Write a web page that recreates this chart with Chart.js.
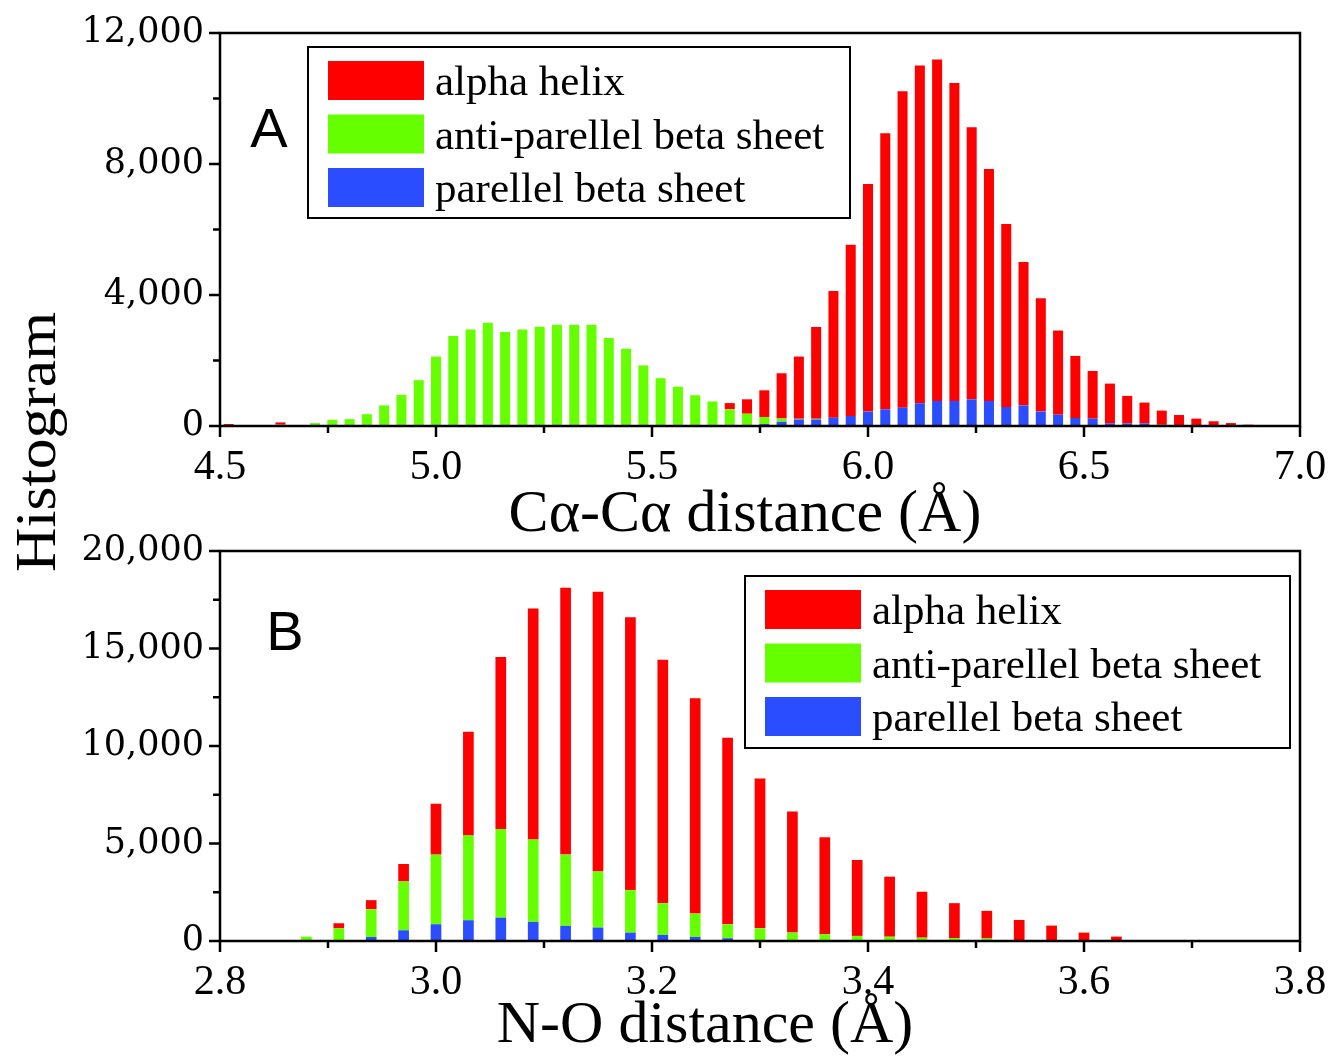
<!DOCTYPE html>
<html>
<head>
<meta charset="utf-8">
<script src="https://cdn.jsdelivr.net/npm/chart.js@4.4.1/dist/chart.umd.min.js"></script>
<style>
  body { margin: 0; background: #fff; }
  #wrap { position: relative; width: 1332px; height: 1057px; overflow: hidden; }
  .box { position: absolute; left: 0; width: 1332px; }
  #ytitle {
    position: absolute; left: 36px; top: 442px;
    font: 56px "Liberation Serif", serif; white-space: nowrap; color: #000;
    transform: translate(-50%, -50%) rotate(-90deg) scaleX(1.1);
  }
</style>
</head>
<body>
<div id="wrap">
  <div class="box" style="top:0;height:560px"><canvas id="chartA"></canvas></div>
  <div class="box" style="top:500px;height:557px"><canvas id="chartB"></canvas></div>
  <div id="ytitle">Histogram</div>
</div>
<script>
// ---------- panel A : Ca-Ca distance ----------
const xA = [4.52, 4.56, 4.60, 4.64, 4.68, 4.72, 4.76, 4.80, 4.84, 4.88, 4.92, 4.96,
  5.00, 5.04, 5.08, 5.12, 5.16, 5.20, 5.24, 5.28, 5.32, 5.36, 5.40, 5.44, 5.48,
  5.52, 5.56, 5.60, 5.64, 5.68, 5.72, 5.76, 5.80, 5.84, 5.88, 5.92, 5.96,
  6.00, 6.04, 6.08, 6.12, 6.16, 6.20, 6.24, 6.28, 6.32, 6.36, 6.40, 6.44, 6.48,
  6.52, 6.56, 6.60, 6.64, 6.68, 6.72, 6.76, 6.80, 6.84, 6.88, 6.92];
const alphaA = [60, 0, 0, 70, 0, 0, 0, 0, 0, 0, 0, 0,
  0, 0, 0, 0, 0, 0, 0, 0, 0, 0, 0, 0, 0,
  0, 0, 0, 0, 190, 440, 815, 1380, 1900, 2800, 3870, 5230,
  6950, 8430, 9660, 10310, 10425, 9710, 8305, 7080, 5585, 4380, 3460, 2570, 1895,
  1455, 1215, 840, 635, 430, 315, 210, 135, 85, 40, 15];
const antiA = [0, 30, 30, 40, 30, 90, 190, 210, 360, 630, 950, 1400,
  2120, 2750, 2950, 3150, 2870, 2950, 3030, 3090, 3090, 3090, 2690, 2360, 1850,
  1440, 1180, 920, 730, 490, 355, 215, 100, 20, 20, 0, 0,
  0, 0, 0, 0, 0, 0, 0, 0, 0, 0, 0, 0, 0,
  0, 0, 0, 0, 0, 0, 0, 0, 0, 0, 0];
const paraA = [0, 0, 0, 0, 0, 0, 0, 0, 0, 0, 0, 0,
  0, 0, 0, 0, 0, 0, 0, 0, 0, 0, 0, 0, 0,
  20, 20, 20, 20, 20, 20, 60, 130, 200, 200, 255, 305,
  440, 510, 560, 695, 765, 765, 815, 765, 580, 630, 440, 345, 245,
  225, 80, 80, 80, 40, 20, 15, 10, 5, 0, 0];
const xTicksA = [4.5, 4.75, 5.0, 5.25, 5.5, 5.75, 6.0, 6.25, 6.5, 6.75, 7.0];
const xLabelsA = [4.5, 5.0, 5.5, 6.0, 6.5, 7.0];
const yTicksA = [0, 2000, 4000, 6000, 8000, 10000, 12000];
const yLabelsA = [0, 4000, 8000, 12000];

// ---------- panel B : N-O distance ----------
const xB = [2.88, 2.91, 2.94, 2.97, 3.00, 3.03, 3.06, 3.09, 3.12, 3.15, 3.18, 3.21, 3.24,
  3.27, 3.30, 3.33, 3.36, 3.39, 3.42, 3.45, 3.48, 3.51, 3.54, 3.57, 3.60, 3.63];
const alphaB = [0, 260, 465, 895, 2610, 5325, 8810, 11845, 13685, 14340, 13990, 12480, 11040,
  9560, 7680, 6215, 4975, 3895, 3080, 2355, 1790, 1415, 1050, 790, 430, 225];
const antiB = [220, 650, 1425, 2505, 3570, 4345, 4550, 4225, 3655, 2880, 2180, 1630, 1200,
  720, 600, 410, 340, 260, 220, 170, 150, 130, 30, 0, 0, 0];
const paraB = [0, 0, 205, 550, 860, 1065, 1200, 980, 775, 690, 430, 310, 205,
  140, 50, 20, 10, 0, 0, 0, 0, 0, 0, 0, 0, 0];
const xTicksB = [2.8, 2.9, 3.0, 3.1, 3.2, 3.3, 3.4, 3.5, 3.6, 3.7, 3.8];
const xLabelsB = [2.8, 3.0, 3.2, 3.4, 3.6, 3.8];
const yTicksB = [0, 2500, 5000, 7500, 10000, 12500, 15000, 17500, 20000];
const yLabelsB = [0, 5000, 10000, 15000, 20000];

const RED = '#ff0000', GREEN = '#66ff00', BLUE = '#2a4dff';

// frame, tick marks, panel letter, x title and boxed legend
const framePlugin = {
  id: 'frame',
  afterDatasetsDraw(chart, args, opts) {
    const { ctx, chartArea: a, scales } = chart;
    ctx.save();
    ctx.strokeStyle = '#000';
    ctx.lineWidth = 2.5;
    ctx.strokeRect(a.left, a.top, a.right - a.left, a.bottom - a.top);

    ctx.beginPath();
    scales.x.ticks.forEach(t => {
      const px = scales.x.getPixelForValue(t.value);
      const len = t.label ? 11 : 7;
      ctx.moveTo(px, a.bottom);
      ctx.lineTo(px, a.bottom + len);
    });
    scales.y.ticks.forEach(t => {
      const py = scales.y.getPixelForValue(t.value);
      const len = t.label ? 11 : 7;
      ctx.moveTo(a.left, py);
      ctx.lineTo(a.left - len, py);
    });
    ctx.stroke();

    ctx.fillStyle = '#000';
    ctx.textAlign = 'center';
    ctx.textBaseline = 'middle';
    ctx.font = '56px "Liberation Sans"';
    ctx.fillText(opts.letter, a.left + opts.letterX, a.top + opts.letterY);
    ctx.font = '60px "Liberation Serif"';
    ctx.fillText(opts.title, a.left + opts.titleX, a.bottom + opts.titleY);

    const L = opts.legend;
    const bx = a.left + L.x, by = a.top + L.y;
    ctx.lineWidth = 2;
    ctx.strokeRect(bx, by, L.w, L.h);
    ctx.font = '43px "Liberation Serif"';
    ctx.textAlign = 'left';
    ctx.textBaseline = 'alphabetic';
    chart.data.datasets.slice().reverse().forEach((ds, i) => {
      const top = by + 14 + i * 53.5;
      ctx.fillStyle = ds.backgroundColor;
      ctx.fillRect(bx + 20, top, 96, 39);
      ctx.fillStyle = '#000';
      ctx.fillText(ds.label, bx + 127, top + 34);
    });
    ctx.restore();
  }
};

function makeChart(id, d) {
  const series = (ys) => d.x.map((x, i) => ({ x: x, y: ys[i] }));
  return new Chart(document.getElementById(id), {
    type: 'bar',
    data: {
      datasets: [
        { label: 'parellel beta sheet', data: series(d.para), backgroundColor: BLUE },
        { label: 'anti-parellel beta sheet', data: series(d.anti), backgroundColor: GREEN },
        { label: 'alpha helix', data: series(d.alpha), backgroundColor: RED }
      ]
    },
    options: {
      responsive: true,
      maintainAspectRatio: false,
      animation: false,
      layout: { padding: { top: d.padTop, right: 32, left: 0, bottom: 0 } },
      datasets: { bar: { categoryPercentage: 1, barPercentage: d.barPct, borderWidth: 0 } },
      plugins: {
        legend: { display: false },
        tooltip: { enabled: false },
        frame: d.frame
      },
      scales: {
        x: {
          type: 'linear', stacked: true, offset: false,
          min: d.xTicks[0], max: d.xTicks[d.xTicks.length - 1],
          grid: { display: false, offset: false },
          border: { display: false },
          afterBuildTicks: s => { s.ticks = d.xTicks.map(v => ({ value: v })); },
          afterFit: s => { s.height = d.xHeight; s.paddingLeft = 0; s.paddingRight = 0; },
          ticks: {
            autoSkip: false, maxRotation: 0, padding: 9, color: '#000',
            font: { family: 'Liberation Serif', size: 42 },
            callback: v => d.xLabels.includes(v) ? v.toFixed(1) : ''
          }
        },
        y: {
          stacked: true,
          min: 0, max: d.yTicks[d.yTicks.length - 1],
          grid: { display: false },
          border: { display: false },
          afterBuildTicks: s => { s.ticks = d.yTicks.map(v => ({ value: v })); },
          afterFit: s => { s.width = 220; },
          ticks: {
            autoSkip: false, padding: 8, color: '#000',
            font: { family: 'DejaVu Serif', size: 35 },
            callback: v => d.yLabels.includes(v) ? v.toLocaleString('en-US') : ''
          }
        }
      }
    },
    plugins: [framePlugin]
  });
}

makeChart('chartA', {
  x: xA, alpha: alphaA, anti: antiA, para: paraA,
  xTicks: xTicksA, xLabels: xLabelsA, yTicks: yTicksA, yLabels: yLabelsA,
  padTop: 33, xHeight: 134, barPct: 0.58,
  frame: {
    letter: 'A', letterX: 49, letterY: 99,
    title: 'C\u03b1-C\u03b1 distance (\u00c5)', titleX: 525, titleY: 89,
    legend: { x: 88, y: 14, w: 542, h: 171 }
  }
});

makeChart('chartB', {
  x: xB, alpha: alphaB, anti: antiB, para: paraB,
  xTicks: xTicksB, xLabels: xLabelsB, yTicks: yTicksB, yLabels: yLabelsB,
  padTop: 51, xHeight: 116, barPct: 0.33,
  frame: {
    letter: 'B', letterX: 65, letterY: 84,
    title: 'N-O distance (\u00c5)', titleX: 485, titleY: 85,
    legend: { x: 525, y: 25, w: 545, h: 172 }
  }
});
</script>
</body>
</html>
